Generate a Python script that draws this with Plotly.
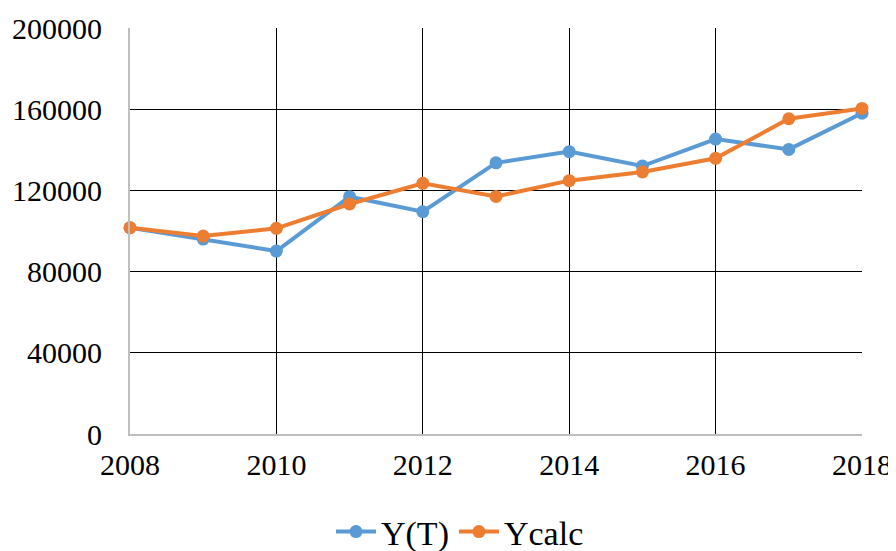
import plotly.graph_objects as go

years = [2008, 2009, 2010, 2011, 2012, 2013, 2014, 2015, 2016, 2017, 2018]
y_t = [101600, 96000, 90100, 116900, 109500, 133600, 139100, 132000, 145300, 140200, 158000]
y_calc = [101600, 97500, 101300, 113300, 123500, 117000, 124800, 129100, 135800, 155300, 160400]

FONT = "Liberation Serif, Times New Roman, serif"

fig = go.Figure()
fig.add_trace(go.Scatter(
    x=years, y=y_t, name="Y(T)", mode="lines+markers",
    line=dict(color="#5B9BD5", width=4),
    marker=dict(size=13, color="#5B9BD5"),
    cliponaxis=False,
))
fig.add_trace(go.Scatter(
    x=years, y=y_calc, name="Ycalc", mode="lines+markers",
    line=dict(color="#ED7D31", width=4),
    marker=dict(size=13, color="#ED7D31"),
    cliponaxis=False,
))

fig.update_xaxes(
    range=[2008, 2018], tickvals=[2008, 2010, 2012, 2014, 2016, 2018],
    showgrid=True, gridcolor="black", gridwidth=1,
    showline=True, linecolor="#BFBFBF", linewidth=2,
    zeroline=False, ticks="", ticklabelstandoff=3, automargin=False,
    tickfont=dict(family=FONT, size=30, color="black"),
)
fig.update_yaxes(
    range=[0, 200000], tickvals=[0, 40000, 80000, 120000, 160000, 200000],
    tickformat="d",
    showgrid=True, gridcolor="black", gridwidth=1,
    showline=True, linecolor="#BFBFBF", linewidth=2,
    zeroline=False, ticks="", ticklabelstandoff=20, automargin=False,
    tickfont=dict(family=FONT, size=30, color="black"),
)

# page body has an 8px default margin, so the figure is sized 888x543
fig.update_layout(
    width=888, height=543,
    margin=dict(l=122, r=34, t=20, b=117),
    plot_bgcolor="white", paper_bgcolor="white",
    font=dict(family=FONT, color="black"),
    legend=dict(
        orientation="h", xref="container", yref="container",
        x=0.509, xanchor="center", y=0.035, yanchor="middle",
        font=dict(family=FONT, size=34, color="black"),
        itemwidth=40,
    ),
)

fig.write_html("out.html")
